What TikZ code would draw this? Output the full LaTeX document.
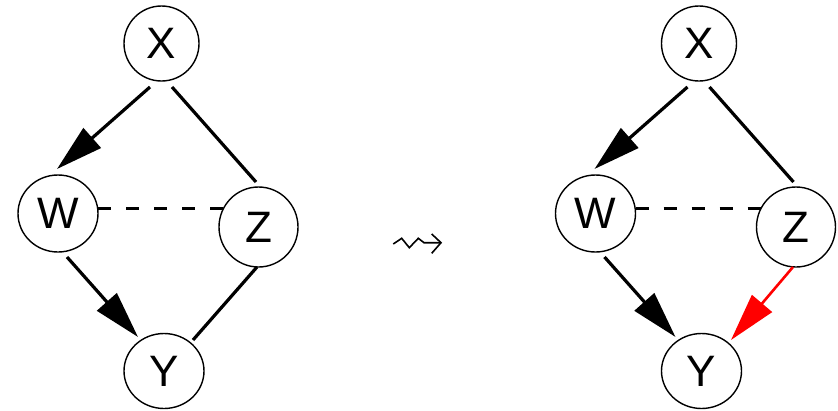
\documentclass[tikz,border=0pt]{standalone}
\usepackage{fontspec}
\setmainfont{Liberation Sans}
\usetikzlibrary{shapes.geometric,arrows.meta,calc}
\begin{document}
\begin{tikzpicture}[x=1pt,y=-1pt,
  var/.style={draw,ellipse,line width=1.4pt,inner sep=0pt,font=\fontsize{44}{44}\selectfont},
  edge/.style={line width=3.2pt},
  arr/.style={edge,-{Triangle[length=47pt,width=26pt]}},
  redarr/.style={line width=2.6pt,red,-{Triangle[length=48pt,width=26pt]}},
  dashedge/.style={line width=3pt,dash pattern=on 13pt off 15pt}]
\useasboundingbox (0,0) rectangle (838,410);
% left graph
\node[var,minimum width=75pt,minimum height=75pt] (X) at (161.5,43.5) {X};
\node[var,minimum width=80pt,minimum height=77pt] (W) at (58,213.5) {W};
\node[var,minimum width=79pt,minimum height=80pt] (Z) at (258.5,227) {Z};
\node[var,minimum width=80pt,minimum height=75pt] (Y) at (164,371) {Y};
\draw[arr] ($(X)+(-11.5,43.5)$) -- ($(W)+(-1,-44.5)$);
\draw[edge] ($(X)+(10.5,43.5)$) -- ($(Z)+(-2.5,-45)$);
\draw[dashedge] ($(W)+(40,-5.5)$) -- ($(Z)+(-34.5,-19)$);
\draw[arr] ($(W)+(9,43.5)$) -- ($(Y)+(-26,-34)$);
\draw[edge] ($(Z)+(-1.5,40)$) -- ($(Y)+(29,-31)$);
% squiggly arrow
\draw[line width=1.6pt,line join=miter] (393.3,244) -- (401.7,238.3) -- (409.3,247.7) -- (418.3,238.3) -- (424,242.7) -- (441,242.7);
\draw[line width=1.6pt] (431.7,234) -- (441,242.7) -- (431.7,253.3);
% right graph
\node[var,minimum width=75pt,minimum height=75pt] (X2) at (699,43.5) {X};
\node[var,minimum width=80pt,minimum height=77pt] (W2) at (595.5,213.5) {W};
\node[var,minimum width=79pt,minimum height=80pt] (Z2) at (796,227) {Z};
\node[var,minimum width=80pt,minimum height=75pt] (Y2) at (701.5,371) {Y};
\draw[arr] ($(X2)+(-11.5,43.5)$) -- ($(W2)+(-1,-44.5)$);
\draw[edge] ($(X2)+(10.5,43.5)$) -- ($(Z2)+(-2.5,-45)$);
\draw[dashedge] ($(W2)+(40,-5.5)$) -- ($(Z2)+(-34.5,-19)$);
\draw[arr] ($(W2)+(9,43.5)$) -- ($(Y2)+(-26,-34)$);
\draw[redarr] ($(Z2)+(-3,40)$) -- ($(Y2)+(29.5,-31)$);
\end{tikzpicture}
\end{document}
